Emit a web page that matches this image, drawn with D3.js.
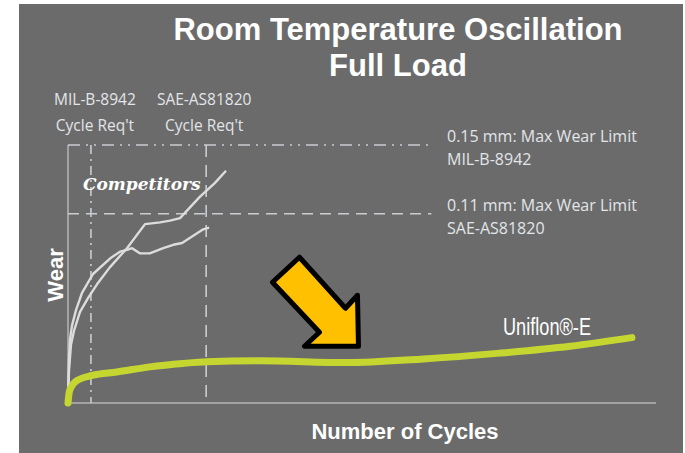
<!DOCTYPE html>
<html>
<head>
<meta charset="utf-8">
<script src="https://cdn.jsdelivr.net/npm/d3@7"></script>
<style>
  html, body { margin: 0; padding: 0; background: #fff; }
  svg { display: block; }
</style>
</head>
<body>
<div id="chart"></div>
<script>
// Data (x: relative number of cycles 0-100, y: wear in mm)
const uniflonCycles = [0, 0.2, 0.5, 1.5, 4.1, 8.3, 13.9, 19.5, 23.6, 32.7, 47.4, 59.9, 73.5, 85.4, 95.9];
const uniflonWear   = [0, 0.006, 0.009, 0.013, 0.016, 0.018, 0.021, 0.023, 0.024, 0.0245, 0.0235, 0.0255, 0.029, 0.033, 0.038];

const competitorACycles = [0, 0.17, 0.51, 1.02, 2.04, 3.4, 4.93, 7.14, 10.03, 13.1, 15.65, 17.35, 19.05, 22.45, 25.0, 26.87];
const competitorAWear   = [0.002, 0.019, 0.034, 0.042, 0.053, 0.061, 0.069, 0.079, 0.090, 0.104, 0.105, 0.106, 0.1075, 0.120, 0.128, 0.135];

const competitorBCycles = [0, 0.17, 0.34, 0.68, 1.36, 2.38, 4.25, 7.14, 8.84, 10.03, 10.9, 12.2, 13.9, 16.2, 17.9, 19.4, 23.0, 24.0];
const competitorBWear   = [0.002, 0.025, 0.037, 0.045, 0.054, 0.064, 0.075, 0.084, 0.088, 0.089, 0.090, 0.087, 0.087, 0.090, 0.092, 0.093, 0.101, 0.102];

const wearLimits = [0.15, 0.11];
const wearLimitLabels = [["0.15 mm: Max Wear Limit", "MIL-B-8942"], ["0.11 mm: Max Wear Limit", "SAE-AS81820"]];
const cycleReqs = [3.9, 23.5];
const cycleReqLabels = [["MIL-B-8942", "Cycle Req't"], ["SAE-AS81820", "Cycle Req't"]];

const width = 685, height = 453;

const svg = d3.select('#chart').append('svg')
  .attr('width', width)
  .attr('height', height);

// gray slide panel
svg.append('rect')
  .attr('x', 19).attr('y', 4)
  .attr('width', 664).attr('height', height - 4)
  .attr('fill', '#6b6b6b');

const x = d3.scaleLinear().domain([0, 100]).range([68, 656]);
const y = d3.scaleLinear().domain([0, 0.15]).range([403, 145]);

const lineColor = '#c9cdd2';

// title
const title = svg.append('g')
  .attr('fill', '#ffffff')
  .attr('font-family', 'Liberation Sans, Arial, sans-serif')
  .attr('font-weight', 'bold')
  .attr('font-size', 31)
  .attr('text-anchor', 'middle');
title.append('text').attr('x', 398).attr('y', 40).text('Room Temperature Oscillation');
title.append('text').attr('x', 398).attr('y', 76).text('Full Load');

// axes (plain lines, no ticks)
svg.append('line')
  .attr('x1', x(0)).attr('x2', x(0))
  .attr('y1', y(0)).attr('y2', y(0.15))
  .attr('stroke', '#b4b4b4').attr('stroke-width', 1.5);
svg.append('line')
  .attr('x1', x(0)).attr('x2', x(100))
  .attr('y1', y(0)).attr('y2', y(0))
  .attr('stroke', '#b4b4b4').attr('stroke-width', 1.5);

// wear limits
const limitDash = ['12,6,2,6,2,6', '11,7'];
svg.selectAll('line.limit')
  .data(wearLimits)
  .join('line')
  .attr('class', 'limit')
  .attr('x1', x(0)).attr('x2', x(61.8))
  .attr('y1', d => y(d)).attr('y2', d => y(d))
  .attr('stroke', lineColor)
  .attr('stroke-width', 1.6)
  .attr('stroke-dasharray', (d, i) => limitDash[i]);

// cycle requirements
const reqDash = ['9,5,2,5', '12,8'];
svg.selectAll('line.req')
  .data(cycleReqs)
  .join('line')
  .attr('class', 'req')
  .attr('x1', d => x(d)).attr('x2', d => x(d))
  .attr('y1', y(0.15)).attr('y2', y(0))
  .attr('stroke', lineColor)
  .attr('stroke-width', 1.6)
  .attr('stroke-dasharray', (d, i) => reqDash[i]);

const labelFont = 'Open Sans, sans-serif';

// requirement labels
cycleReqLabels.forEach((lines, i) => {
  const t = svg.append('text')
    .attr('fill', '#e2e5e9')
    .attr('font-family', labelFont)
    .attr('font-size', 15.5)
    .attr('text-anchor', 'middle');
  lines.forEach((s, j) => {
    t.append('tspan')
      .attr('x', x(cycleReqs[i]) + (i === 0 ? 4 : -2))
      .attr('y', 105 + j * 26)
      .text(s);
  });
});

// wear limit labels
wearLimitLabels.forEach((lines, i) => {
  const t = svg.append('text')
    .attr('fill', '#e2e5e9')
    .attr('font-family', labelFont)
    .attr('font-size', 16)
    .attr('x', 447);
  lines.forEach((s, j) => {
    t.append('tspan')
      .attr('x', 447)
      .attr('y', y(wearLimits[i]) - 3 + j * 23)
      .text(s);
  });
});

// curves
const line = d3.line()
  .x(d => x(d[0]))
  .y(d => y(d[1]))
  .curve(d3.curveMonotoneX);

const compA = d3.zip(competitorACycles, competitorAWear);
const compB = d3.zip(competitorBCycles, competitorBWear);
const uniflon = d3.zip(uniflonCycles, uniflonWear);

svg.selectAll('path.comp')
  .data([compA, compB])
  .join('path')
  .attr('class', 'comp')
  .attr('d', d3.line().x(d => x(d[0])).y(d => y(d[1])).curve(d3.curveLinear))
  .attr('fill', 'none')
  .attr('stroke', '#dcdcdc')
  .attr('stroke-width', 2.4)
  .attr('stroke-linejoin', 'round');

svg.append('path')
  .datum(uniflon)
  .attr('d', line)
  .attr('fill', 'none')
  .attr('stroke', '#c6d631')
  .attr('stroke-width', 7)
  .attr('stroke-linecap', 'round');

// series labels
svg.append('text')
  .attr('x', 83).attr('y', 190)
  .attr('fill', '#ffffff')
  .attr('font-family', 'DejaVu Serif, serif')
  .attr('font-style', 'italic')
  .attr('font-weight', 'bold')
  .attr('font-size', 17)
  .text('Competitors');

svg.append('text')
  .attr('x', 503).attr('y', 335)
  .attr('fill', '#ffffff')
  .attr('font-family', 'Liberation Sans Narrow, Liberation Sans, sans-serif')
  .attr('font-size', 23)
  .attr('textLength', 88)
  .attr('lengthAdjust', 'spacingAndGlyphs')
  .text('Uniflon®-E');

// axis titles
svg.append('text')
  .attr('transform', `translate(63, ${y(0.075) + 1}) rotate(-90)`)
  .attr('text-anchor', 'middle')
  .attr('fill', '#ffffff')
  .attr('font-family', 'Liberation Sans, Arial, sans-serif')
  .attr('font-weight', 'bold')
  .attr('font-size', 22)
  .text('Wear');

svg.append('text')
  .attr('x', 405).attr('y', 439)
  .attr('text-anchor', 'middle')
  .attr('fill', '#ffffff')
  .attr('font-family', 'Liberation Sans, Arial, sans-serif')
  .attr('font-weight', 'bold')
  .attr('font-size', 22)
  .text('Number of Cycles');

// highlight arrow (tip anchored to the Uniflon curve)
const tipX = x(49.4), tipY = y(0.033);
const arrowShape = [[0, 0], [-1, -51], [-13, -38], [-59, -89], [-86, -64], [-39, -14], [-54, 0]];
svg.append('path')
  .attr('d', d3.line()(arrowShape.map(p => [tipX + p[0], tipY + p[1]])) + 'Z')
  .attr('fill', '#ffc000')
  .attr('stroke', '#000')
  .attr('stroke-width', 5)
  .attr('stroke-linejoin', 'round');
</script>
</body>
</html>
